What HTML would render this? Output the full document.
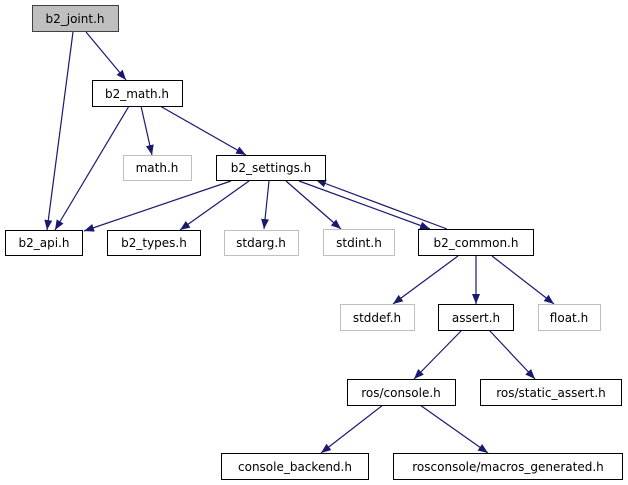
<!DOCTYPE html>
<html><head><meta charset="utf-8"><style>
html,body{margin:0;padding:0;background:#fff;}
svg{display:block;}
text{font-family:"DejaVu Sans","Liberation Sans",sans-serif;font-size:12px;text-anchor:middle;fill:#000;}
</style></head><body>
<svg width="628" height="485" viewBox="0 0 628 485" xmlns="http://www.w3.org/2000/svg">
<defs><marker id="a" viewBox="0 0 10 10" refX="10" refY="5" markerWidth="10" markerHeight="10" markerUnits="userSpaceOnUse" orient="auto"><path d="M0,1 L10,5 L0,9 Z" fill="#191970"/></marker></defs>
<g stroke="#191970" stroke-width="1.2" fill="none" marker-end="url(#a)">
<line x1="73" y1="32" x2="47" y2="230"/>
<line x1="86" y1="32" x2="126" y2="80"/>
<line x1="129" y1="106" x2="55" y2="230"/>
<line x1="141" y1="106" x2="152" y2="155"/>
<line x1="160" y1="106" x2="246" y2="155"/>
<line x1="231" y1="181" x2="84" y2="231"/>
<line x1="249" y1="181" x2="180" y2="230"/>
<line x1="269" y1="181" x2="264" y2="229"/>
<line x1="286" y1="181" x2="341" y2="229"/>
<line x1="299" y1="181" x2="430" y2="229"/>
<line x1="447" y1="229" x2="316" y2="180"/>
<line x1="458" y1="256" x2="393" y2="304"/>
<line x1="476" y1="256" x2="476" y2="304"/>
<line x1="492" y1="256" x2="554" y2="304"/>
<line x1="462" y1="330" x2="414" y2="379"/>
<line x1="489" y1="330" x2="535" y2="379"/>
<line x1="383" y1="405" x2="321" y2="453"/>
<line x1="420" y1="405" x2="488" y2="453"/>
</g>
<g stroke-width="1">
<rect x="32.5" y="5.5" width="86" height="26" fill="#bfbfbf" stroke="#404040"/>
<rect x="92.5" y="80.5" width="90" height="26" fill="#fff" stroke="#000"/>
<rect x="123.5" y="155.5" width="68" height="25" fill="#fff" stroke="#bfbfbf"/>
<rect x="216.5" y="155.5" width="109" height="25" fill="#fff" stroke="#000"/>
<rect x="5.5" y="230.5" width="77" height="25" fill="#fff" stroke="#000"/>
<rect x="107.5" y="230.5" width="93" height="25" fill="#fff" stroke="#000"/>
<rect x="224.5" y="230.5" width="74" height="25" fill="#fff" stroke="#bfbfbf"/>
<rect x="323.5" y="229.5" width="71" height="26" fill="#fff" stroke="#bfbfbf"/>
<rect x="418.5" y="229.5" width="115" height="26" fill="#fff" stroke="#000"/>
<rect x="340.5" y="304.5" width="74" height="26" fill="#fff" stroke="#bfbfbf"/>
<rect x="438.5" y="304.5" width="75" height="26" fill="#fff" stroke="#000"/>
<rect x="538.5" y="304.5" width="62" height="26" fill="#fff" stroke="#bfbfbf"/>
<rect x="347.5" y="379.5" width="108" height="26" fill="#fff" stroke="#000"/>
<rect x="480.5" y="379.5" width="141" height="26" fill="#fff" stroke="#000"/>
<rect x="221.5" y="453.5" width="147" height="26" fill="#fff" stroke="#000"/>
<rect x="393.5" y="453.5" width="229" height="26" fill="#fff" stroke="#000"/>
</g>
<text x="75" y="23">b2_joint.h</text>
<text x="137" y="98">b2_math.h</text>
<text x="157" y="172">math.h</text>
<text x="271" y="172">b2_settings.h</text>
<text x="44" y="247">b2_api.h</text>
<text x="154" y="247">b2_types.h</text>
<text x="261" y="247">stdarg.h</text>
<text x="359" y="247">stdint.h</text>
<text x="476" y="247">b2_common.h</text>
<text x="377" y="322">stddef.h</text>
<text x="476" y="322">assert.h</text>
<text x="569" y="322">float.h</text>
<text x="401" y="397">ros/console.h</text>
<text x="551" y="397">ros/static_assert.h</text>
<text x="295" y="471">console_backend.h</text>
<text x="508" y="471">rosconsole/macros_generated.h</text>
</svg>
</body></html>
